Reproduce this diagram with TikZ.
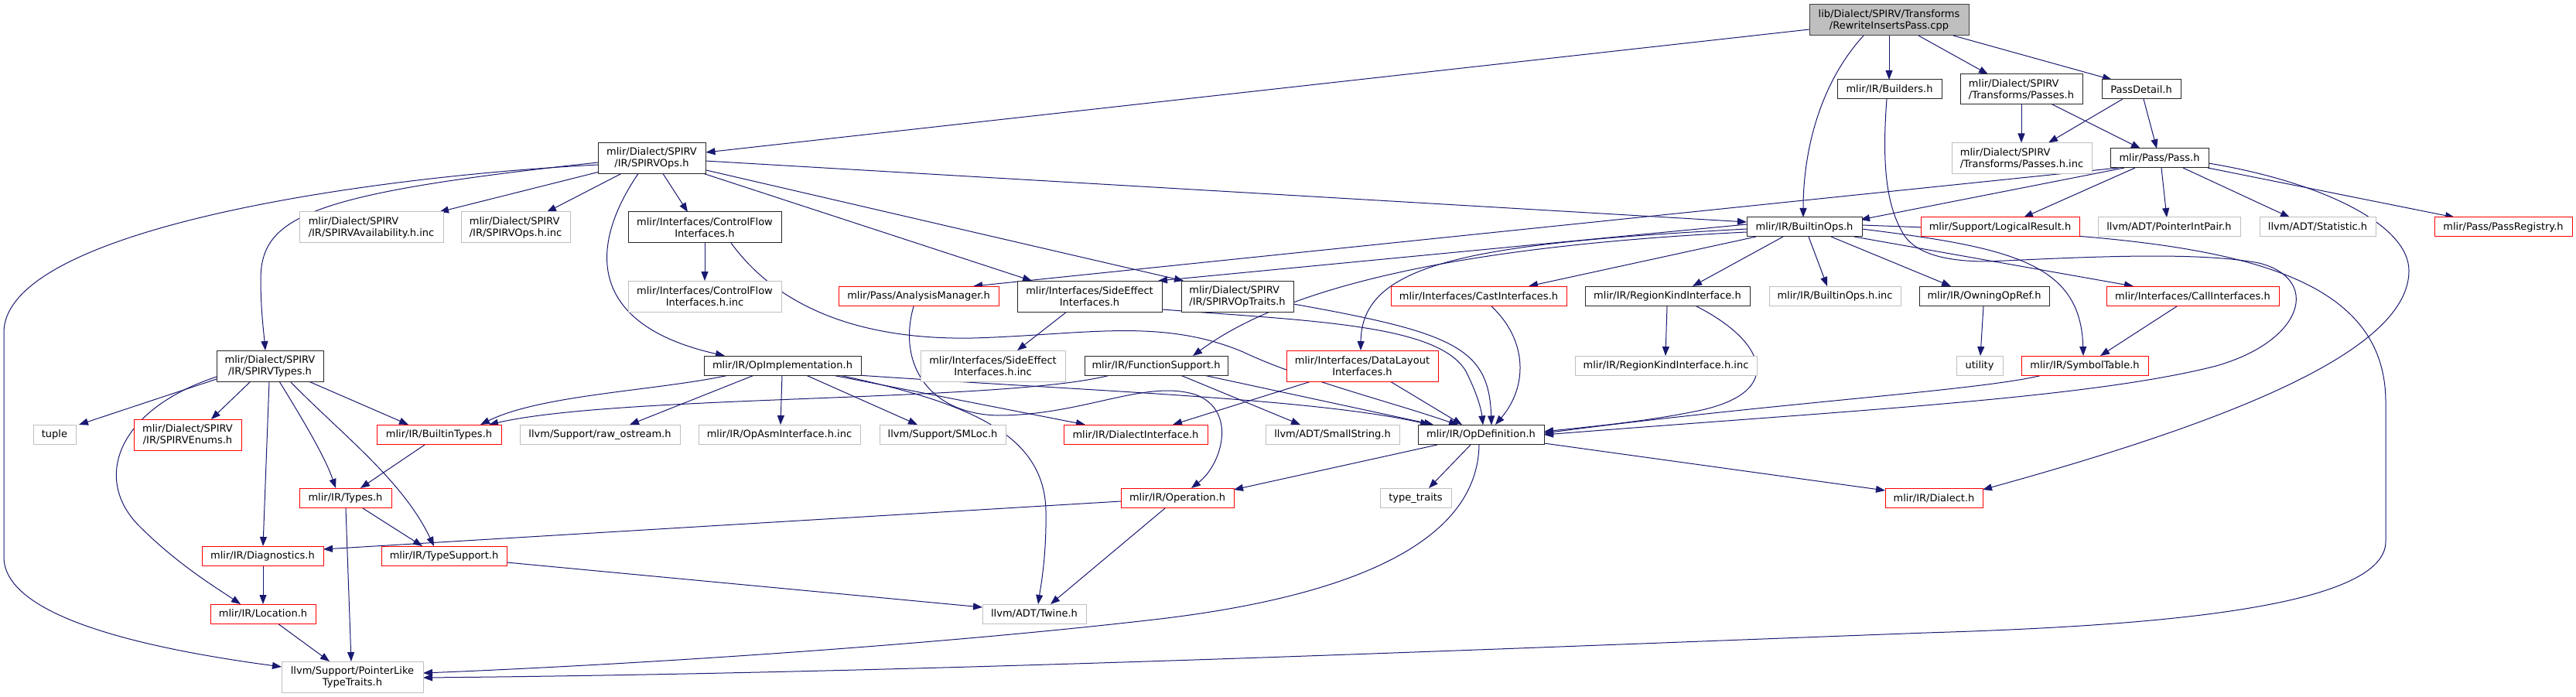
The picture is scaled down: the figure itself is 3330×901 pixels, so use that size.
\documentclass[tikz,border=0pt]{standalone}
\usepackage{fontspec}
\setmainfont{DejaVu Sans}
\usetikzlibrary{arrows.meta,calc}
\pgfdeclarelayer{bg}
\pgfsetlayers{bg,main}
\definecolor{edgec}{HTML}{191970}
\definecolor{grayb}{HTML}{BFBFBF}
\definecolor{rootfill}{HTML}{BFBFBF}
\newcommand{\nd}[6]{\node[#1, minimum width=#4pt, minimum height=#5pt] (#2) at (#3) {#6};}
\tikzset{
  box/.style={draw, rectangle, inner sep=0pt, line width=1pt, fill=white, align=center, font=\fontsize{13}{15}\selectfont},
  blk/.style={box, draw=black!85},
  blkL/.style={blk, align=left},
  gry/.style={box, draw=grayb},
  gryL/.style={gry, align=left},
  redb/.style={box, draw=red},
  rootb/.style={box, draw=black!75, fill=rootfill},
  edge/.style={draw=edgec, line width=1pt, -{Triangle[length=12pt,width=9pt]}}
}
\begin{document}
\begin{tikzpicture}[x=1pt,y=-1pt]
\useasboundingbox (0,0) rectangle (3330,901);
\nd{rootb}{root}{2442,26}{206}{40}{lib/Dialect/SPIRV/Transforms\\/RewriteInsertsPass.cpp}
\nd{blk}{builders}{2442.5,115.5}{135}{25}{mlir/IR/Builders.h}
\nd{blkL}{passes}{2613,115.5}{158}{39}{mlir/Dialect/SPIRV\\/Transforms/Passes.h}
\nd{blk}{passdetail}{2768,115.5}{102}{25}{PassDetail.h}
\nd{gryL}{passesinc}{2613.5,204.5}{181}{40}{mlir/Dialect/SPIRV\\/Transforms/Passes.h.inc}
\nd{blk}{pass}{2791.5,204.5}{127}{25}{mlir/Pass/Pass.h}
\nd{redb}{logicalresult}{2585.5,293.5}{205}{25}{mlir/Support/LogicalResult.h}
\nd{gry}{pointerintpair}{2804,293.5}{184}{25}{llvm/ADT/PointerIntPair.h}
\nd{gry}{statistic}{2996,293.5}{150}{25}{llvm/ADT/Statistic.h}
\nd{redb}{passregistry}{3236,293.5}{178}{25}{mlir/Pass/PassRegistry.h}
\nd{blk}{builtinops}{2332.5,293.5}{149}{25}{mlir/IR/BuiltinOps.h}
\nd{blk}{spirvops}{842.5,204.5}{139}{40}{mlir/Dialect/SPIRV\\/IR/SPIRVOps.h}
\nd{gryL}{spirvavail}{480,294}{186}{40}{mlir/Dialect/SPIRV\\/IR/SPIRVAvailability.h.inc}
\nd{gryL}{spirvopsinc}{666.5,294}{141}{40}{mlir/Dialect/SPIRV\\/IR/SPIRVOps.h.inc}
\nd{blk}{cfi}{911,294}{198}{40}{mlir/Interfaces/ControlFlow\\Interfaces.h}
\nd{blk}{spirvtypes}{349,473}{138}{40}{mlir/Dialect/SPIRV\\/IR/SPIRVTypes.h}
\nd{gry}{tuple}{70.5,562}{55}{25}{tuple}
\nd{redb}{spirvenums}{242.5,562}{139}{40}{mlir/Dialect/SPIRV\\/IR/SPIRVEnums.h}
\nd{redb}{builtintypes}{567.5,562}{161}{25}{mlir/IR/BuiltinTypes.h}
\nd{gry}{rawostream}{775.5,562}{207}{25}{llvm/Support/raw\_ostream.h}
\nd{gry}{cfiinc}{911,383}{198}{40}{mlir/Interfaces/ControlFlow\\Interfaces.h.inc}
\nd{redb}{analysis}{1187.5,383}{207}{25}{mlir/Pass/AnalysisManager.h}
\nd{blk}{sideeffect}{1408.5,383}{187}{40}{mlir/Interfaces/SideEffect\\Interfaces.h}
\nd{blkL}{spirvoptraits}{1599.5,383}{145}{40}{mlir/Dialect/SPIRV\\/IR/SPIRVOpTraits.h}
\nd{blk}{opimpl}{1011.5,472.5}{203}{25}{mlir/IR/OpImplementation.h}
\nd{gry}{sideeffectinc}{1283.5,473}{187}{40}{mlir/Interfaces/SideEffect\\Interfaces.h.inc}
\nd{blk}{funcsupport}{1494.5,472.5}{185}{25}{mlir/IR/FunctionSupport.h}
\nd{gry}{opasm}{1007.5,562}{209}{25}{mlir/IR/OpAsmInterface.h.inc}
\nd{gry}{smloc}{1218.5,562}{163}{25}{llvm/Support/SMLoc.h}
\nd{redb}{dialectinterface}{1468,562}{186}{25}{mlir/IR/DialectInterface.h}
\nd{gry}{smallstring}{1722.5,562}{173}{25}{llvm/ADT/SmallString.h}
\nd{redb}{castinterfaces}{1911.5,383}{227}{25}{mlir/Interfaces/CastInterfaces.h}
\nd{redb}{datalayout}{1761,473}{196}{40}{mlir/Interfaces/DataLayout\\Interfaces.h}
\nd{blk}{regionkind}{2155.5,383}{213}{25}{mlir/IR/RegionKindInterface.h}
\nd{gry}{builtinopsinc}{2372,383}{170}{25}{mlir/IR/BuiltinOps.h.inc}
\nd{blk}{owningopref}{2565,383}{168}{25}{mlir/IR/OwningOpRef.h}
\nd{gry}{regionkindinc}{2153.5,472.5}{235}{25}{mlir/IR/RegionKindInterface.h.inc}
\nd{blk}{opdef}{1914.5,562}{163}{25}{mlir/IR/OpDefinition.h}
\nd{redb}{callinterfaces}{2834.5,383}{223}{25}{mlir/Interfaces/CallInterfaces.h}
\nd{gry}{utility}{2559,472.5}{60}{25}{utility}
\nd{redb}{symboltable}{2695,472.5}{164}{25}{mlir/IR/SymbolTable.h}
\nd{redb}{types}{446.5,644}{119}{25}{mlir/IR/Types.h}
\nd{redb}{diagnostics}{339.5,718.5}{157}{25}{mlir/IR/Diagnostics.h}
\nd{redb}{typesupport}{574,718.5}{162}{25}{mlir/IR/TypeSupport.h}
\nd{redb}{location}{340,793.5}{136}{25}{mlir/IR/Location.h}
\nd{gry}{pointerlike}{455.5,875}{183}{40}{llvm/Support/PointerLike\\TypeTraits.h}
\nd{redb}{operation}{1522,644}{146}{25}{mlir/IR/Operation.h}
\nd{gry}{twine}{1337,793.5}{134}{25}{llvm/ADT/Twine.h}
\nd{gry}{typetraits}{1830,644}{92}{25}{type\_traits}
\nd{redb}{dialect}{2500,644}{126}{25}{mlir/IR/Dialect.h}
\begin{pgfonlayer}{bg}
\fill[white] (0,0) rectangle (3330,901);
\draw[edge] ($(root)+(-103,12)$) -- ($(spirvops)+(70,-7.5)$);
\draw[edge] ($(root)+(-33,20)$) .. controls (2355,105) and (2331,190) .. ($(builtinops)+(-1.5,-12.5)$);
\draw[edge] ($(root)+(0,20)$) -- ($(builders)+(-0.5,-12.5)$);
\draw[edge] ($(root)+(38,20)$) -- ($(passes)+(-43,-19.5)$);
\draw[edge] ($(root)+(83,20)$) -- ($(passdetail)+(-38,-12.5)$);
\draw[edge] ($(passes)+(0,19.5)$) -- ($(passesinc)+(-0.5,-20)$);
\draw[edge] ($(passes)+(40,19.5)$) -- ($(pass)+(-24.5,-12.5)$);
\draw[edge] ($(passdetail)+(-24,12.5)$) -- ($(passesinc)+(34.5,-20)$);
\draw[edge] ($(passdetail)+(3,12.5)$) -- ($(pass)+(-3.5,-12.5)$);
\draw[edge] ($(pass)+(-45.5,12.5)$) -- ($(builtinops)+(72.5,-9.5)$);
\draw[edge] ($(pass)+(-53.5,12.5)$) -- ($(analysis)+(70.5,-13)$);
\draw[edge] ($(pass)+(-31.5,12.5)$) -- ($(logicalresult)+(30.5,-12.5)$);
\draw[edge] ($(pass)+(2.5,12.5)$) -- ($(pointerintpair)+(-3,-12.5)$);
\draw[edge] ($(pass)+(30.5,12.5)$) -- ($(statistic)+(-36,-12.5)$);
\draw[edge] ($(pass)+(62.5,12.5)$) -- ($(passregistry)+(-63,-12.5)$);
\draw[edge] ($(pass)+(63.5,6.5)$) .. controls (3000,235) and (3114,290) .. (3114,350) .. controls (3114,450) and (2900,540) .. ($(dialect)+(63,-11)$);
\draw[edge] ($(builtinops)+(-62.5,12.5)$) -- ($(castinterfaces)+(64.5,-13)$);
\draw[edge] ($(builtinops)+(-27.5,12.5)$) -- ($(regionkind)+(32.5,-13)$);
\draw[edge] ($(builtinops)+(5.5,12.5)$) -- ($(builtinopsinc)+(-10,-13)$);
\draw[edge] ($(builtinops)+(34.5,12.5)$) -- ($(owningopref)+(-43,-13)$);
\draw[edge] ($(builtinops)+(64.5,12.5)$) -- ($(callinterfaces)+(-76.5,-13)$);
\draw[edge] ($(builtinops)+(74.5,2.5)$) .. controls (2600,320) and (2690,340) .. ($(symboltable)+(-2,-12.5)$);
\draw[edge] ($(builtinops)+(74.5,-2.5)$) .. controls (2800,305) and (3084,320) .. (3084,520) -- (3084,700) .. controls (3084,790) and (2750,810) .. (2490,818) .. controls (1900,840) and (1200,870) .. ($(pointerlike)+(91.5,1)$);
\draw[edge] ($(builtinops)+(-74.5,6.5)$) .. controls (1850,320) and (1650,380) .. ($(funcsupport)+(47.5,-12.5)$);
\draw[edge] ($(builtinops)+(-74.5,2.5)$) .. controls (1900,315) and (1760,340) .. ($(datalayout)+(-2,-20)$);
\draw[edge] ($(builtinops)+(-74.5,-3.5)$) -- ($(sideeffect)+(88.5,-20)$);
\draw[edge] ($(spirvops)+(69.5,3.5)$) -- ($(builtinops)+(-74.5,-6.5)$);
\draw[edge] ($(spirvops)+(-67.5,17.5)$) -- ($(spirvavail)+(88,-20)$);
\draw[edge] ($(spirvops)+(-39.5,20)$) -- ($(spirvopsinc)+(40.5,-20)$);
\draw[edge] ($(spirvops)+(14.5,20)$) -- ($(cfi)+(-22,-20)$);
\draw[edge] ($(spirvops)+(-17.5,20)$) .. controls (760,320) and (760,420) .. ($(opimpl)+(-74.5,-12.5)$);
\draw[edge] ($(spirvops)+(67.5,20)$) -- ($(sideeffect)+(-74.5,-20)$);
\draw[edge] ($(spirvops)+(70.5,15.5)$) -- ($(spirvoptraits)+(-69.5,-20)$);
\draw[edge] ($(spirvops)+(-69.5,5.5)$) .. controls (400,250) and (338,280) .. (337,360) .. controls (337,400) and (341,430) .. ($(spirvtypes)+(-6,-20)$);
\draw[edge] ($(spirvops)+(-69.5,8.5)$) .. controls (450,230) and (5,300) .. (5,430) -- (5,720) .. controls (5,800) and (200,840) .. ($(pointerlike)+(-91.5,-13)$);
\draw[edge] ($(cfi)+(0,20)$) -- ($(cfiinc)+(0,-20)$);
\draw[edge] ($(cfi)+(34,20)$) .. controls (1000,390) and (1100,440) .. (1258,437) .. controls (1400,433) and (1500,410) .. (1607,455) .. controls (1680,490) and (1800,520) .. ($(opdef)+(-29.5,-12.5)$);
\draw[edge] ($(analysis)+(-6.5,13)$) .. controls (1160,470) and (1200,535) .. (1290,537) .. controls (1400,537) and (1480,490) .. (1545,510) .. controls (1600,530) and (1580,600) .. ($(operation)+(18,-13)$);
\draw[edge] ($(sideeffect)+(-29.5,20)$) -- ($(sideeffectinc)+(31.5,-20)$);
\draw[edge] ($(sideeffect)+(93.5,17)$) .. controls (1700,415) and (1860,420) .. (1895,480) .. controls (1910,510) and (1915,530) .. ($(opdef)+(2.5,-12.5)$);
\draw[edge] ($(spirvoptraits)+(72.5,10)$) .. controls (1880,430) and (1925,450) .. ($(opdef)+(13.5,-12.5)$);
\draw[edge] ($(opimpl)+(-69.5,12.5)$) .. controls (850,505) and (700,510) .. ($(builtintypes)+(53.5,-13)$);
\draw[edge] ($(funcsupport)+(-59.5,12.5)$) .. controls (1300,520) and (800,510) .. ($(builtintypes)+(64.5,-13)$);
\draw[edge] ($(opimpl)+(-36.5,12.5)$) -- ($(rawostream)+(38.5,-13)$);
\draw[edge] ($(opimpl)+(-0.5,12.5)$) -- ($(opasm)+(1.5,-13)$);
\draw[edge] ($(opimpl)+(30.5,12.5)$) -- ($(smloc)+(-32.5,-13)$);
\draw[edge] ($(opimpl)+(64.5,12.5)$) -- ($(dialectinterface)+(-65,-13)$);
\draw[edge] ($(opimpl)+(73.5,12.5)$) .. controls (1250,520) and (1350,560) .. (1352,660) .. controls (1353,720) and (1345,760) .. ($(twine)+(5,-12.5)$);
\draw[edge] ($(opimpl)+(97.5,12.5)$) .. controls (1400,505) and (1700,515) .. ($(opdef)+(-66.5,-13)$);
\draw[edge] ($(funcsupport)+(61.5,12.5)$) -- ($(opdef)+(-61.5,-13)$);
\draw[edge] ($(funcsupport)+(31.5,12.5)$) -- ($(smallstring)+(-41.5,-13)$);
\draw[edge] ($(datalayout)+(36,20)$) -- ($(opdef)+(-24.5,-13)$);
\draw[edge] ($(datalayout)+(-66,20)$) -- ($(dialectinterface)+(48,-13)$);
\draw[edge] ($(castinterfaces)+(16.5,13)$) .. controls (1975,440) and (1975,500) .. ($(opdef)+(18.5,-13)$);
\draw[edge] ($(regionkind)+(-0.5,13)$) -- ($(regionkindinc)+(-0.5,-12.5)$);
\draw[edge] ($(regionkind)+(37.5,13)$) .. controls (2280,440) and (2310,505) .. (2200,530) .. controls (2130,545) and (2050,552) .. ($(opdef)+(81.5,-4)$);
\draw[edge] ($(owningopref)+(-1,13)$) -- ($(utility)+(1,-12.5)$);
\draw[edge] ($(callinterfaces)+(-20.5,13)$) -- ($(symboltable)+(20,-12.5)$);
\draw[edge] ($(symboltable)+(-55,12.5)$) .. controls (2560,505) and (2300,520) .. ($(opdef)+(81.5,-2)$);
\draw[edge] ($(builders)+(-3.5,12.5)$) .. controls (2432,220) and (2440,270) .. (2462,305) .. controls (2480,330) and (2520,338) .. (2570,338) .. controls (2700,332) and (2840,325) .. (2920,340) .. controls (3000,360) and (2980,440) .. (2865,473) .. controls (2700,515) and (2400,530) .. ($(opdef)+(81.5,0)$);
\draw[edge] ($(spirvtypes)+(-69,17)$) -- ($(tuple)+(31.5,-13)$);
\draw[edge] ($(spirvtypes)+(-25,20)$) -- ($(spirvenums)+(30.5,-20)$);
\draw[edge] ($(spirvtypes)+(50,20)$) -- ($(builtintypes)+(-39.5,-13)$);
\draw[edge] ($(spirvtypes)+(12,20)$) .. controls (390,540) and (420,590) .. ($(types)+(-12.5,-13)$);
\draw[edge] ($(spirvtypes)+(26,20)$) .. controls (440,560) and (520,620) .. ($(typesupport)+(-13,-12.5)$);
\draw[edge] ($(spirvtypes)+(-1,20)$) -- ($(diagnostics)+(0.5,-12.5)$);
\draw[edge] ($(spirvtypes)+(-69,14)$) .. controls (150,530) and (120,620) .. (180,680) .. controls (230,730) and (280,760) .. ($(location)+(-29,-12.5)$);
\draw[edge] ($(builtintypes)+(-18.5,13)$) -- ($(types)+(19.5,-13)$);
\draw[edge] ($(types)+(22.5,13)$) -- ($(typesupport)+(-28,-12.5)$);
\draw[edge] ($(types)+(0.5,13)$) -- ($(pointerlike)+(-1.5,-20)$);
\draw[edge] ($(diagnostics)+(0.5,12.5)$) -- ($(location)+(0,-12.5)$);
\draw[edge] ($(location)+(19,12.5)$) -- ($(pointerlike)+(-29.5,-20)$);
\draw[edge] ($(typesupport)+(81,8.5)$) -- ($(twine)+(-67,-8.5)$);
\draw[edge] ($(operation)+(-73,4)$) -- ($(diagnostics)+(78.5,-8.5)$);
\draw[edge] ($(operation)+(-16,13)$) -- ($(twine)+(21,-12.5)$);
\draw[edge] ($(opdef)+(-56.5,13)$) -- ($(operation)+(73,-11)$);
\draw[edge] ($(opdef)+(-13.5,13)$) -- ($(typetraits)+(17,-13)$);
\draw[edge] ($(opdef)+(81.5,11)$) -- ($(dialect)+(-63,-10)$);
\draw[edge] ($(opdef)+(-2.5,13)$) .. controls (1910,700) and (1750,770) .. (1500,800) .. controls (1200,835) and (800,860) .. ($(pointerlike)+(91.5,-5)$);
\end{pgfonlayer}
\end{tikzpicture}
\end{document}
